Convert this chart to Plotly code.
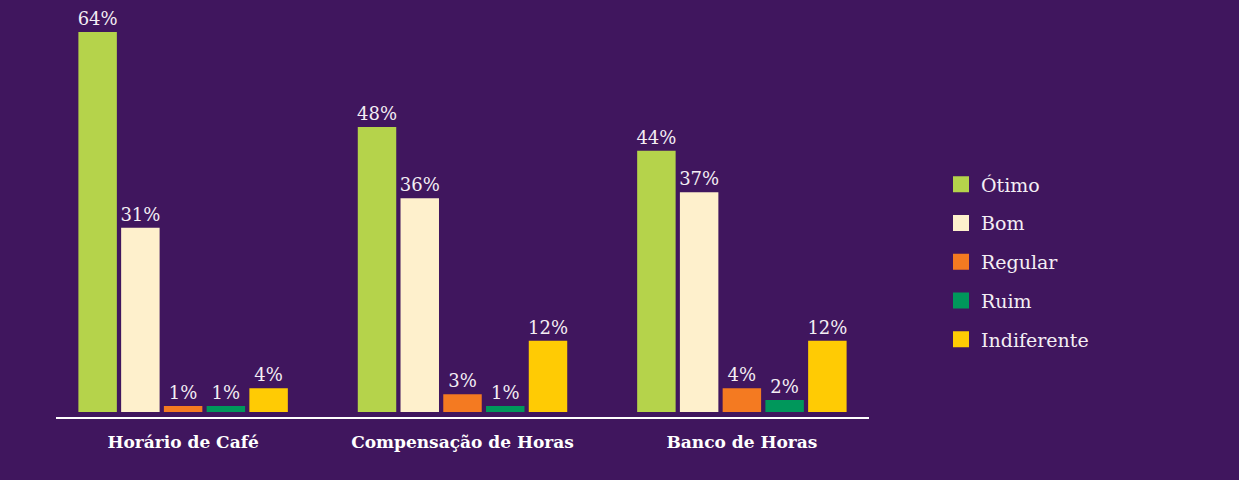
# -*- coding: utf-8 -*-
"""
Avaliação dos benefícios: Horário de Café, Compensação e Banco de Horas
"""
import plotly.graph_objects as go

BG = "#40165E"
TEXT = "#F4EEF4"

categories = ["Horário de Café", "Compensação de Horas", "Banco de Horas"]
series_names = ["Ótimo", "Bom", "Regular", "Ruim", "Indiferente"]
series_colors = ["#B5D34B", "#FEF0CC", "#F47A21", "#00975B", "#FFCB04"]

otimo = [64, 48, 44]
bom = [31, 36, 37]
regular = [1, 3, 4]
ruim = [1, 1, 2]
indiferente = [4, 12, 12]

series_values = [otimo, bom, regular, ruim, indiferente]

fig = go.Figure()

for name, color, values in zip(series_names, series_colors, series_values):
    fig.add_trace(go.Bar(x=categories,
                         y=values,
                         name=name,
                         marker={"color": color, "line": {"width": 0}},
                         text=[f"{v}%" for v in values],
                         textposition="outside",
                         constraintext="none",
                         cliponaxis=False,
                         textfont={"family": "DejaVu Serif", "size": 18,
                                   "color": TEXT},
                         showlegend=False))

# legend entries with bigger squares than the bar icons
for i, (name, color) in enumerate(zip(series_names, series_colors)):
    fig.add_trace(go.Scatter(x=[None],
                             y=[None],
                             mode="markers",
                             name=name,
                             legendgroup=f"g{i}",
                             marker={"symbol": "square", "size": 16,
                                     "color": color},
                             showlegend=True))

fig.update_layout(width=1239,
                  height=480,
                  paper_bgcolor=BG,
                  plot_bgcolor=BG,
                  barmode="group",
                  bargap=0.235,
                  bargroupgap=0.1,
                  margin={"l": 56, "r": 370, "t": 20, "b": 63},
                  showlegend=True,
                  legend={"x": 941 / 1239, "xref": "container",
                          "xanchor": "left",
                          "y": 1 - 262 / 480, "yref": "container",
                          "yanchor": "middle",
                          "traceorder": "grouped",
                          "tracegroupgap": 11,
                          "itemsizing": "trace",
                          "font": {"family": "DejaVu Serif", "size": 19,
                                   "color": TEXT},
                          "bgcolor": "rgba(0,0,0,0)"},
                  xaxis={"range": [-0.455, 2.455],
                         "showline": True,
                         "linecolor": "#FFFFFF",
                         "linewidth": 2,
                         "showgrid": False,
                         "zeroline": False,
                         "ticks": "outside",
                         "ticklen": 9,
                         "tickcolor": BG,
                         "tickfont": {"family": "DejaVu Serif", "size": 17,
                                      "color": "#FFFFFF", "weight": "bold"}},
                  yaxis={"range": [-0.85, 66.0],
                         "visible": False,
                         "showgrid": False,
                         "zeroline": False})

fig.write_html("out.html",
               config={"displayModeBar": False},
               post_script="document.body.style.margin='0';"
                           "document.body.style.background='#40165E';")
